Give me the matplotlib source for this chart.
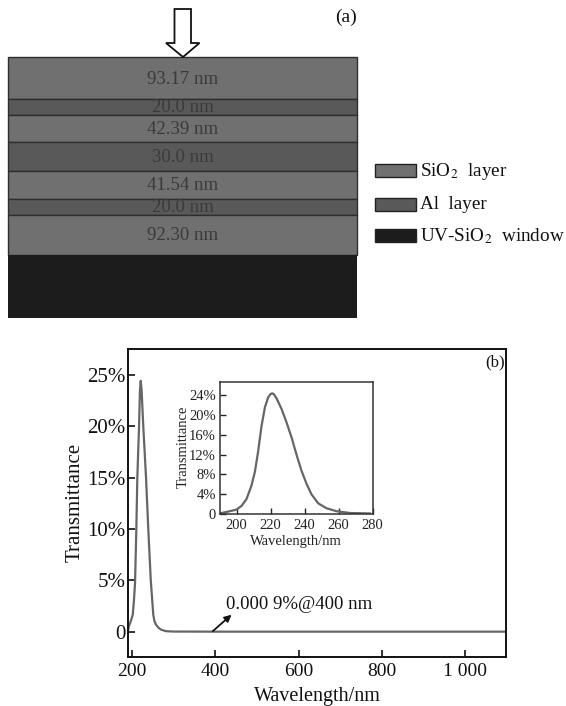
import matplotlib
matplotlib.use("Agg")
import matplotlib.pyplot as plt
from matplotlib.patches import Polygon, Rectangle

plt.rcParams['font.family'] = ['Liberation Serif', 'DejaVu Serif']
plt.rcParams['mathtext.fontset'] = 'stix'

W, H = 566, 706

# panel (a) in pixels
layer_edges = [57.3, 99, 114.7, 142, 170.7, 198.7, 214.7, 254.7]
layer_labels = ["93.17 nm", "20.0 nm", "42.39 nm", "30.0 nm", "41.54 nm", "20.0 nm", "92.30 nm"]
layer_kinds = ["SiO2", "Al", "SiO2", "Al", "SiO2", "Al", "SiO2"]
label_y = [79, 107.8, 129, 157.5, 185.8, 207.8, 235.8]
window_bottom = 317.7
legend_names = ["SiO$_{2}$  layer", "Al  layer", "UV-SiO$_{2}$  window"]
legend_kinds = ["SiO2", "Al", "window"]
legend_y = [171, 204.5, 236]
colors = {"SiO2": "#707070", "Al": "#595959", "window": "#1c1c1c"}

# panel (b) main curve
main_wl = [191, 192, 196, 201.7, 204.5, 207.2, 210.3, 212.7, 216.8, 219, 220.9, 223, 227, 233.6,
           239, 245, 251, 254, 257.6, 263, 269.6, 281, 300, 400, 700, 1100]
main_t = [0.2, 0.5, 0.9, 1.65, 3, 4.75, 10, 15, 20, 23.5, 24.45, 23.5, 20, 15,
          10, 5, 1.65, 1, 0.68, 0.4, 0.2, 0.05, 0.01, 0.0009, 0, 0]
main_xticks = [200, 400, 600, 800, 1000]
main_xlabels = ["200", "400", "600", "800", "1 000"]
main_yticks = [0, 5, 10, 15, 20, 25]
main_ylabels = ["0", "5%", "10%", "15%", "20%", "25%"]

# inset curve
inset_wl = [190.3, 191.2, 196, 200, 203, 205.9, 208.8, 210.8, 212.7, 214.7, 216.7, 218.6, 220, 221, 222, 223.5,
            226.5, 229.4, 232.4, 235.3, 238.2, 241.2, 244.1, 248, 252.9, 258.8, 266.7, 278.4]
inset_t = [0.1, 0.14, 0.5, 0.83, 1.6, 3, 5.7, 8.5, 12.6, 17.8, 21.6, 23.6, 24.25, 24.4, 24.2, 23.4,
           21.2, 18.5, 15.4, 11.9, 8.7, 6, 3.9, 2.1, 1.1, 0.5, 0.14, 0.05]
inset_xticks = [200, 220, 240, 260, 280]
inset_yticks = [0, 4, 8, 12, 16, 20, 24]
inset_ylabels = ["0", "4%", "8%", "12%", "16%", "20%", "24%"]


def px_axes(fig, left, top, right, bottom):
    return fig.add_axes([left / W, 1 - bottom / H, (right - left) / W, (bottom - top) / H])


fig = plt.figure(figsize=(W / 100, H / 100), dpi=100)

# schematic, drawn on a full figure axes in pixel units
bg = fig.add_axes([0, 0, 1, 1])
bg.set_xlim(0, W)
bg.set_ylim(H, 0)
bg.axis("off")

x0, x1 = 8, 357
for i in range(len(layer_labels)):
    top, bottom = layer_edges[i], layer_edges[i + 1]
    bg.add_patch(Rectangle((x0, top), x1 - x0, bottom - top, fc=colors[layer_kinds[i]], ec="#2e2e2e", lw=1.0))
    bg.text((x0 + x1) / 2, label_y[i], layer_labels[i], ha="center", va="center", fontsize=13.5, color="#3a3a3a")
bg.add_patch(Rectangle((x0, layer_edges[-1]), x1 - x0, window_bottom - layer_edges[-1], fc=colors["window"], ec="none"))

bg.add_patch(Polygon([(174.5, 9), (191, 9), (191, 43), (199.5, 43), (183, 57), (166, 43), (174.5, 43)],
                     closed=True, fc="white", ec="#111111", lw=1.3))
bg.text(346, 17, "(a)", ha="center", va="center", fontsize=14, color="#111111")

for name, kind, y in zip(legend_names, legend_kinds, legend_y):
    bg.add_patch(Rectangle((374.5, y - 7), 41, 13, fc=colors[kind], ec="#222222", lw=1.0))
    bg.text(420, y, name, ha="left", va="center", fontsize=13.8, color="#111111")

# main plot
ax = px_axes(fig, 128.3, 348.5, 506, 657)
ax.plot(main_wl, main_t, color="#666666", lw=1.6)
ax.set_xlim(191, 1098.5)
ax.set_ylim(-2.47, 27.6)
ax.set_xticks(main_xticks)
ax.set_xticklabels(main_xlabels, fontsize=14)
ax.set_yticks(main_yticks)
ax.set_yticklabels(main_ylabels, fontsize=15)
ax.tick_params(axis="x", direction="in", length=5, width=1.2, pad=4, color="#111111", labelcolor="#111111")
ax.tick_params(axis="y", direction="in", length=5, width=1.2, pad=2, color="#111111", labelcolor="#111111")
for s in ax.spines.values():
    s.set_linewidth(1.4)
    s.set_color("#111111")
ax.set_xlabel("Wavelength/nm", fontsize=14.5, color="#111111", labelpad=5)
ax.set_ylabel("Transmittance", fontsize=15, color="#111111", labelpad=0)
ax.yaxis.set_label_coords((85 - 128.3) / (506 - 128.3), 0.5)
ax.text(0.972, 0.955, "(b)", transform=ax.transAxes, ha="center", va="center", fontsize=12, color="#111111")
ax.annotate("", xy=(439, 1.65), xytext=(394, 0.05),
            arrowprops=dict(arrowstyle="-|>", color="#111111", lw=1.3, shrinkA=0, shrinkB=0))
ax.annotate("0.000 9%@400 nm", xy=(226, 604.5), xycoords=bg.transData, ha="left", va="center",
            fontsize=13.5, color="#111111")

# inset
ins = px_axes(fig, 220, 382, 372.7, 513.7)
ins.plot(inset_wl, inset_t, color="#666666", lw=1.6)
ins.set_xlim(190.3, 279.6)
ins.set_ylim(0, 26.7)
ins.set_xticks(inset_xticks)
ins.set_yticks(inset_yticks)
ins.set_yticklabels(inset_ylabels)
ins.tick_params(direction="in", length=4, width=1.0, pad=3, labelsize=10.5, color="#222222", labelcolor="#222222")
ins.tick_params(axis="x", pad=4)
for s in ins.spines.values():
    s.set_linewidth(1.1)
    s.set_color("#333333")
ins.set_xlabel("Wavelength/nm", fontsize=10.5, color="#222222", labelpad=2)
ins.set_ylabel("Transmittance", fontsize=10.5, color="#222222", labelpad=0)
ins.yaxis.set_label_coords((190 - 220) / 152.7, 0.51)

fig.savefig("out.png", dpi=100)
